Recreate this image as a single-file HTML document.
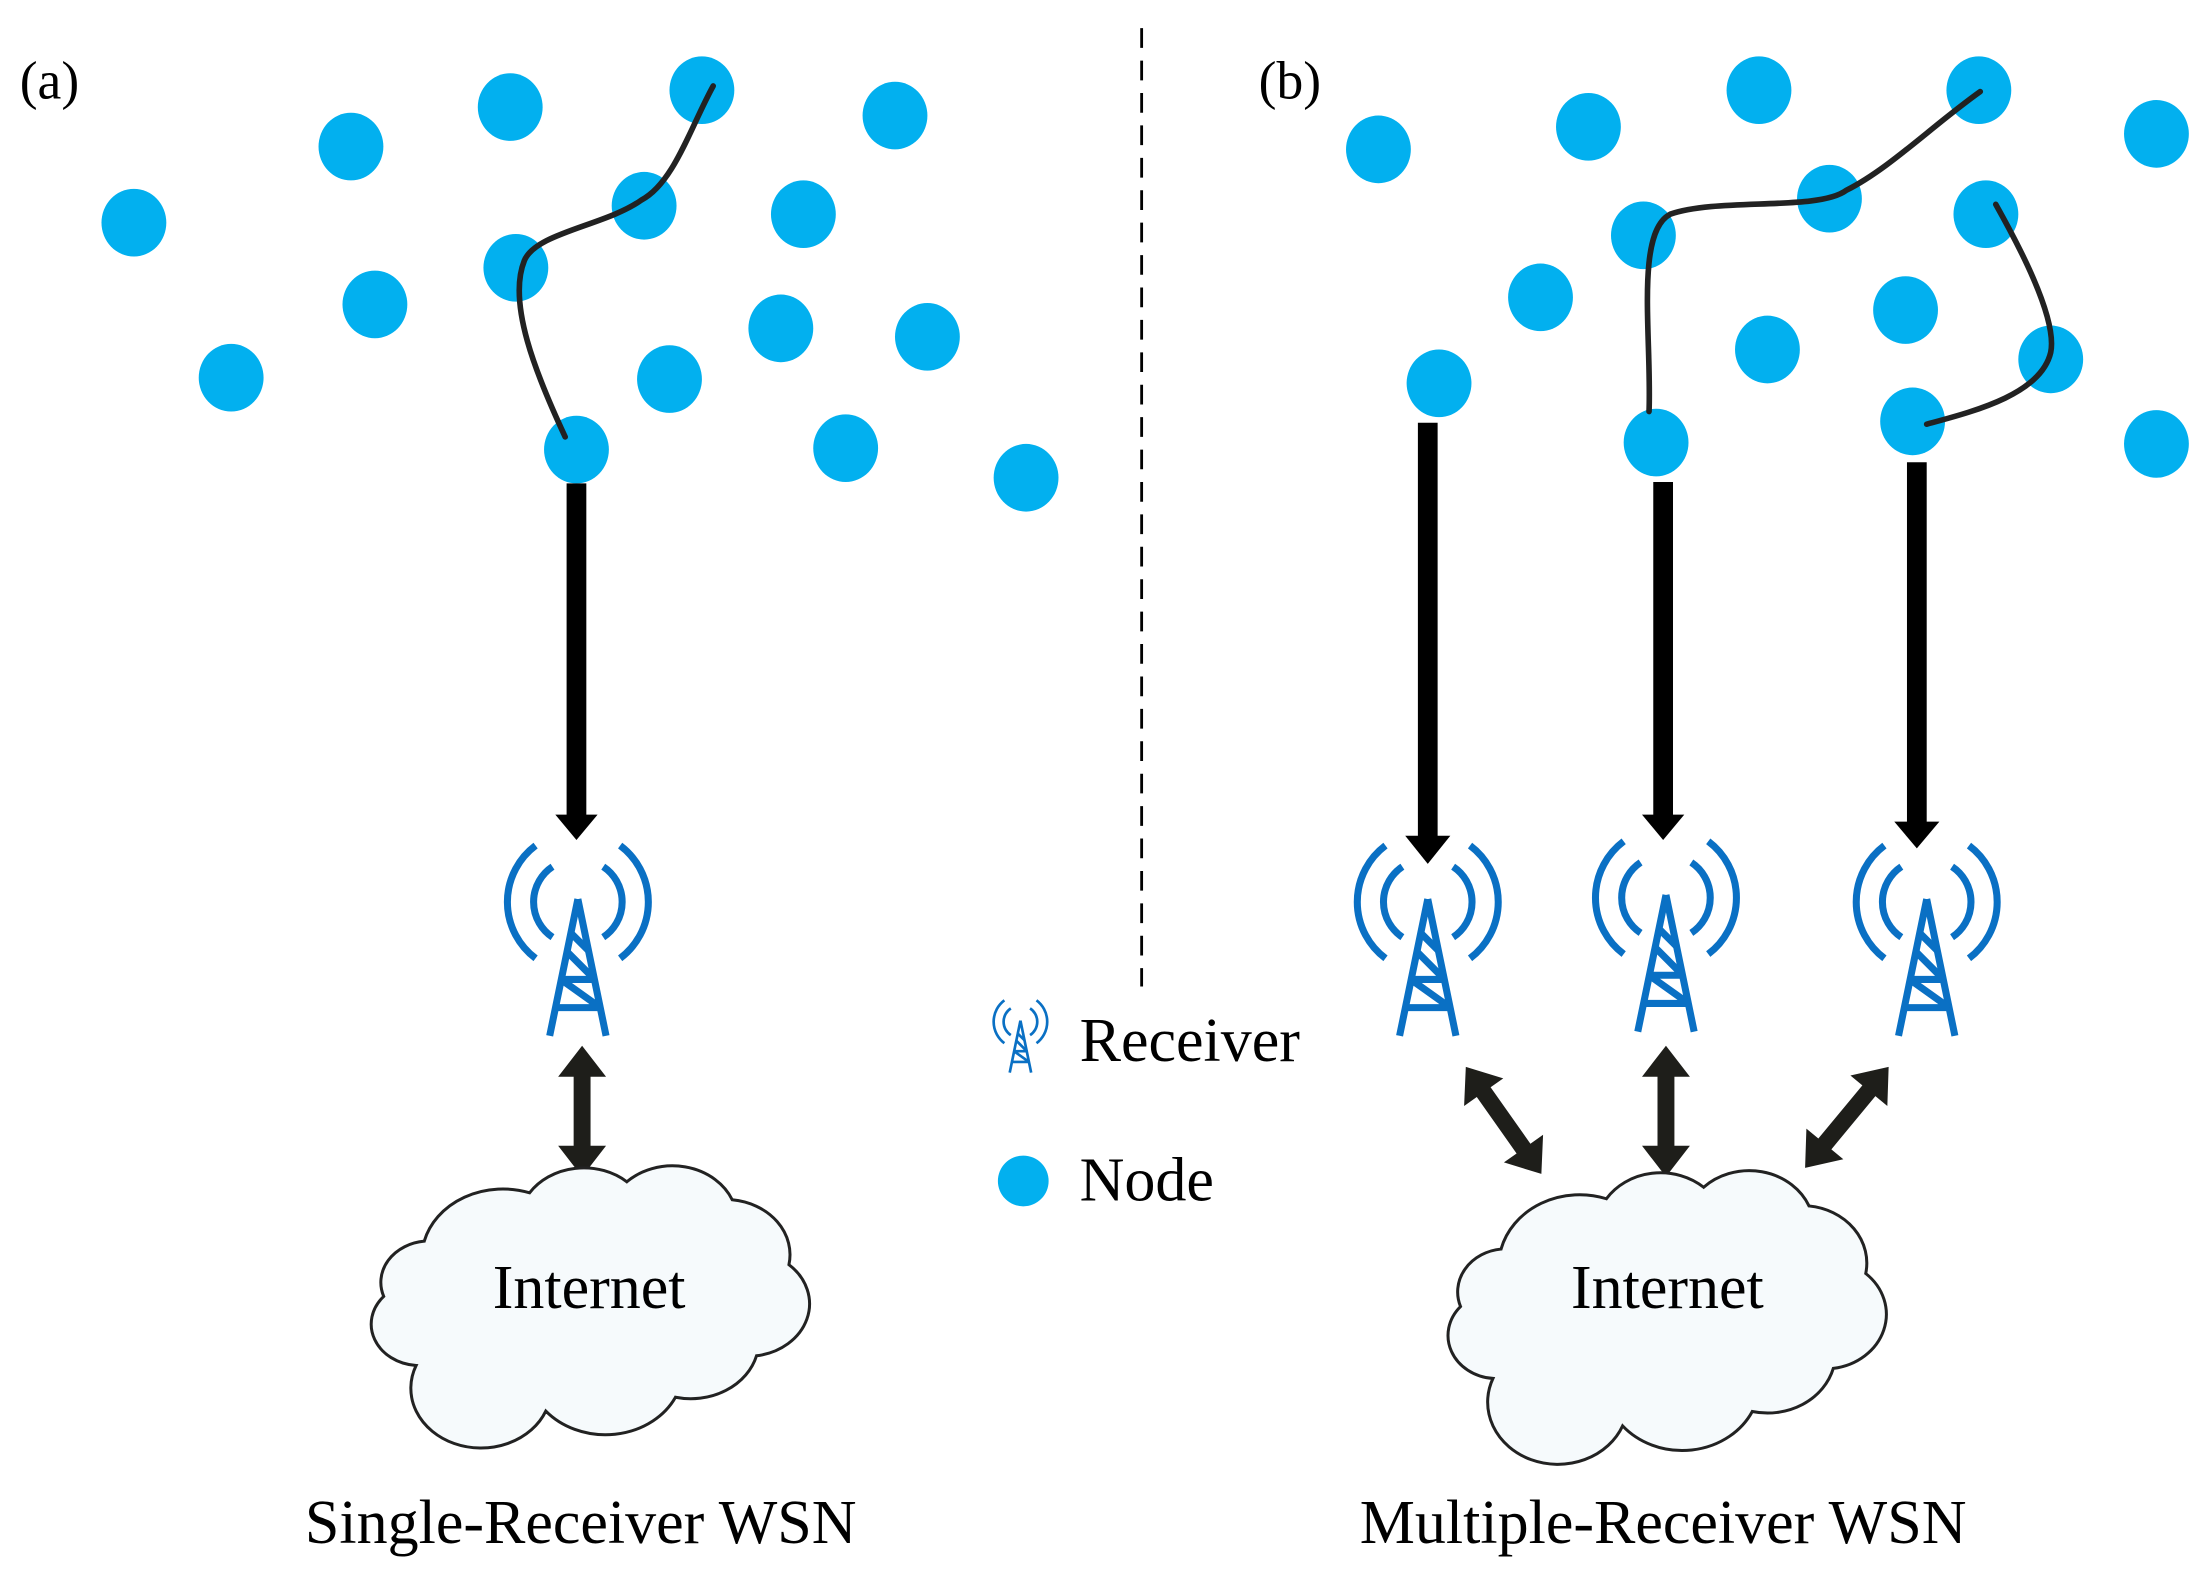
<!DOCTYPE html>
<html><head><meta charset="utf-8"><style>
html,body{margin:0;padding:0;background:#fff}
svg{display:block}
text{font-family:"Liberation Serif",serif;fill:#000}
</style></head><body>
<svg width="2210" height="1577" viewBox="0 0 1568 1119" preserveAspectRatio="none" xmlns="http://www.w3.org/2000/svg">
<defs>
<path id="dar" d="M0,0 L22,-17 L22,-6 L71,-6 L71,-17 L93,0 L71,17 L71,6 L22,6 L22,17 Z" fill="#1e1e1a"/>
<g id="tower" fill="none" stroke="#0a70c4" stroke-width="5">
<path d="M0,-2 L-20,95 M0,-2 L20,95"/>
<path d="M-12,55 L12,55 M-16,75 L16,75 M-8,35 L12,55 M-12,55 L16,75 M-5,22 L8,35"/>
<path d="M18,-25 A30 30 0 0 1 18,25 M30,-40 A50 50 0 0 1 30,40 M-18,-25 A30 30 0 0 0 -18,25 M-30,-40 A50 50 0 0 0 -30,40"/>
</g>
<path id="cloud" d="M-105,55 A30 30 0 0 1 -125,5 A30 30 0 0 1 -100,-35 A50 50 0 0 1 -35,-70 A40 40 0 0 1 25,-78 A40 40 0 0 1 90,-65 A40 40 0 0 1 125,-18 A38 38 0 0 1 105,48 A42 42 0 0 1 55,78 A48 48 0 0 1 -25,88 A42 42 0 0 1 -105,55 Z" fill="#f6fafc" stroke="#222" stroke-width="3" vector-effect="non-scaling-stroke"/>
</defs>

<text x="14" y="70" font-size="38">(a)</text>
<text x="893" y="70" font-size="38">(b)</text>
<line x1="810" y1="20" x2="810" y2="700" stroke="#000" stroke-width="2" stroke-dasharray="14,9"/>

<g fill="#02b0ef">
<ellipse cx="95" cy="158" rx="23" ry="24"/><ellipse cx="249" cy="104" rx="23" ry="24"/>
<ellipse cx="362" cy="76" rx="23" ry="24"/><ellipse cx="498" cy="64" rx="23" ry="24"/>
<ellipse cx="635" cy="82" rx="23" ry="24"/><ellipse cx="457" cy="146" rx="23" ry="24"/>
<ellipse cx="570" cy="152" rx="23" ry="24"/><ellipse cx="366" cy="190" rx="23" ry="24"/>
<ellipse cx="266" cy="216" rx="23" ry="24"/><ellipse cx="164" cy="268" rx="23" ry="24"/>
<ellipse cx="475" cy="269" rx="23" ry="24"/><ellipse cx="554" cy="233" rx="23" ry="24"/>
<ellipse cx="658" cy="239" rx="23" ry="24"/><ellipse cx="409" cy="319" rx="23" ry="24"/>
<ellipse cx="600" cy="318" rx="23" ry="24"/><ellipse cx="728" cy="339" rx="23" ry="24"/>

<ellipse cx="978" cy="106" rx="23" ry="24"/><ellipse cx="1127" cy="90" rx="23" ry="24"/>
<ellipse cx="1248" cy="64" rx="23" ry="24"/><ellipse cx="1404" cy="64" rx="23" ry="24"/>
<ellipse cx="1530" cy="95" rx="23" ry="24"/><ellipse cx="1298" cy="141" rx="23" ry="24"/>
<ellipse cx="1166" cy="167" rx="23" ry="24"/><ellipse cx="1409" cy="152" rx="23" ry="24"/>
<ellipse cx="1093" cy="211" rx="23" ry="24"/><ellipse cx="1352" cy="220" rx="23" ry="24"/>
<ellipse cx="1254" cy="248" rx="23" ry="24"/><ellipse cx="1455" cy="255" rx="23" ry="24"/>
<ellipse cx="1021" cy="272" rx="23" ry="24"/><ellipse cx="1175" cy="314" rx="23" ry="24"/>
<ellipse cx="1357" cy="299" rx="23" ry="24"/><ellipse cx="1530" cy="315" rx="23" ry="24"/>
<ellipse cx="726" cy="838" rx="18" ry="18"/>
</g>

<g fill="none" stroke="#222" stroke-width="4" stroke-linecap="round">
<path d="M506,61 C490,90 478,130 455,142 C430,160 380,165 372,185 C360,215 380,265 401,310"/>
<path d="M1405,65 C1370,90 1340,120 1310,135 C1290,150 1220,140 1185,152 C1160,165 1172,240 1170,292"/>
<path d="M1416,145 C1430,170 1460,225 1455,250 C1448,280 1400,292 1367,301"/>
</g>

<g stroke="#000" stroke-width="14">
<line x1="409" y1="343" x2="409" y2="580"/>
<line x1="1013" y1="300" x2="1013" y2="595"/>
<line x1="1180" y1="342" x2="1180" y2="580"/>
<line x1="1360" y1="328" x2="1360" y2="585"/>
</g>
<g fill="#000">
<path d="M394,578 L424,578 L409,596 Z"/>
<path d="M997,593 L1029,593 L1013,613 Z"/>
<path d="M1165,578 L1195,578 L1180,596 Z"/>
<path d="M1344,583 L1376,583 L1360,602 Z"/>
</g>

<use href="#tower" x="410" y="640"/>
<use href="#tower" x="1013" y="640"/>
<use href="#tower" x="1182" y="637"/>
<use href="#tower" x="1367" y="640"/>
<g transform="translate(724,725) scale(0.38)"><use href="#tower"/></g>

<use href="#dar" transform="translate(413,742) rotate(90)"/>
<use href="#dar" transform="translate(1182,742) rotate(90)"/>
<use href="#dar" transform="translate(1040,757) rotate(54.8)"/>
<use href="#dar" transform="translate(1340,757) rotate(129.6)"/>

<g transform="translate(416,915) scale(1.15,0.98)"><use href="#cloud"/></g>
<g transform="translate(1180,922) scale(1.15,1.02)"><use href="#cloud"/></g>
<text x="418" y="928" font-size="44" text-anchor="middle">Internet</text>
<text x="1183" y="928" font-size="44" text-anchor="middle">Internet</text>

<text x="766" y="753" font-size="44">Receiver</text>
<text x="766" y="852" font-size="44">Node</text>
<text x="412" y="1095" font-size="44" text-anchor="middle">Single-Receiver WSN</text>
<text x="1180" y="1095" font-size="44" text-anchor="middle">Multiple-Receiver WSN</text>
</svg>
</body></html>
